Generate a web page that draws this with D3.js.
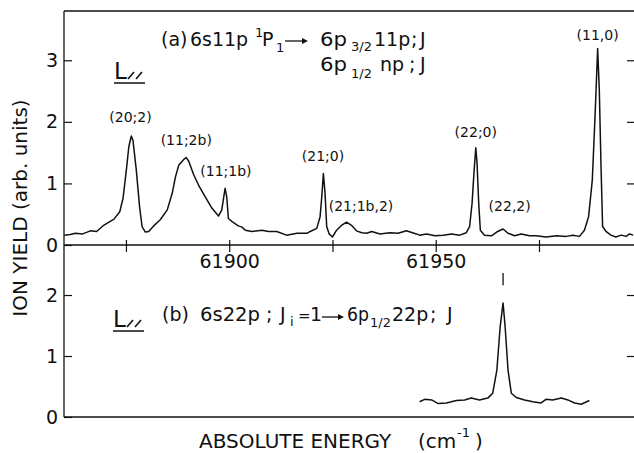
<!DOCTYPE html>
<html>
<head>
<meta charset="utf-8">
<script src="https://cdn.jsdelivr.net/npm/d3@7"></script>
<style>
  body { margin: 0; background: #fff; }
  text { font-family: "DejaVu Sans", sans-serif; fill: #111; }
</style>
</head>
<body>
<svg id="chart" width="634" height="453"></svg>
<script>
// spectrum (a): [energy cm^-1, ion yield]
var spectrumA = [
  [61860.1, 0.16], [61861.5, 0.17], [61862.8, 0.19], [61864.5, 0.18], [61866.4, 0.23],
  [61867.9, 0.22], [61869.6, 0.32], [61872.1, 0.42], [61873.5, 0.54], [61874.3, 0.76],
  [61875.1, 1.22], [61875.7, 1.60], [61876.3, 1.77], [61876.7, 1.70], [61877.5, 1.22],
  [61878.3, 0.62], [61878.9, 0.30], [61879.7, 0.21], [61880.5, 0.22], [61881.7, 0.31],
  [61883.3, 0.41], [61885.0, 0.57], [61886.2, 0.84], [61887.0, 1.11], [61887.8, 1.30],
  [61889.0, 1.39], [61889.6, 1.42], [61890.2, 1.36], [61891.4, 1.14], [61892.6, 0.97],
  [61894.2, 0.78], [61895.8, 0.60], [61897.4, 0.47], [61898.2, 0.57], [61899.0, 0.92],
  [61899.4, 0.78], [61899.8, 0.43], [61900.7, 0.38], [61902.2, 0.31], [61903.1, 0.29],
  [61903.9, 0.24], [61905.5, 0.22], [61907.9, 0.24], [61909.5, 0.22], [61911.5, 0.22],
  [61913.9, 0.16], [61916.4, 0.19], [61918.8, 0.19], [61919.6, 0.22], [61921.2, 0.27],
  [61922.0, 0.46], [61922.4, 0.78], [61922.8, 1.16], [61923.2, 0.84], [61923.6, 0.30],
  [61924.2, 0.18], [61925.0, 0.13], [61926.0, 0.24], [61927.2, 0.32], [61928.4, 0.37],
  [61929.6, 0.32], [61930.8, 0.23], [61932.1, 0.20], [61933.3, 0.19], [61934.5, 0.22],
  [61936.5, 0.18], [61938.9, 0.20], [61940.9, 0.19], [61942.9, 0.23], [61945.3, 0.18],
  [61946.1, 0.16], [61947.8, 0.18], [61949.8, 0.15], [61951.8, 0.16], [61953.8, 0.18],
  [61955.8, 0.16], [61957.4, 0.20], [61958.2, 0.30], [61958.8, 0.68], [61959.3, 1.22],
  [61959.7, 1.58], [61960.0, 1.33], [61960.4, 0.68], [61960.8, 0.24], [61961.8, 0.16],
  [61963.5, 0.15], [61965.0, 0.22], [61966.3, 0.26], [61967.5, 0.19], [61969.1, 0.15],
  [61970.7, 0.18], [61972.7, 0.15], [61974.3, 0.15], [61976.7, 0.13], [61979.2, 0.15],
  [61981.6, 0.14], [61983.2, 0.16], [61984.8, 0.14], [61986.0, 0.24], [61987.0, 0.46],
  [61987.9, 1.05], [61988.6, 2.14], [61989.2, 3.19], [61989.6, 2.52], [61990.0, 1.32],
  [61990.4, 0.30], [61991.2, 0.22], [61992.4, 0.16], [61993.6, 0.13], [61994.9, 0.16],
  [61996.1, 0.14], [61996.9, 0.18], [61997.8, 0.16]
];

// spectrum (b)
var spectrumB = [
  [61946.1, 0.25], [61947.3, 0.29], [61949.0, 0.28], [61950.6, 0.22], [61952.6, 0.23],
  [61955.0, 0.27], [61957.0, 0.28], [61958.6, 0.31], [61960.6, 0.28], [61962.6, 0.31],
  [61963.8, 0.39], [61964.8, 0.77], [61965.6, 1.48], [61966.3, 1.87], [61966.8, 1.48],
  [61967.5, 0.77], [61968.3, 0.39], [61969.5, 0.32], [61971.5, 0.28], [61973.5, 0.25],
  [61975.5, 0.23], [61976.7, 0.29], [61978.3, 0.28], [61980.4, 0.31], [61982.0, 0.28],
  [61983.6, 0.23], [61985.2, 0.21], [61987.2, 0.27]
];

// peak labels of (a): [text, energy, yield level of label baseline]
var peakLabels = [
  ["(20;2)", 61876.1, 2.0],
  ["(11;2b)", 61889.6, 1.62],
  ["(11;1b)", 61899.2, 1.12],
  ["(21;0)", 61922.7, 1.36],
  ["(21;1b,2)", 61931.9, 0.55],
  ["(22;0)", 61959.7, 1.75],
  ["(22,2)", 61967.9, 0.55],
  ["(11,0)", 61989.2, 3.33]
];

// marker above peak of (b): [energy, from, to]
var markerB = [61966.3, 2.16, 2.36];

var xTicks = [61875, 61900, 61925, 61950, 61975];
var xTickLabels = [61900, 61950];
var yTicksA = [0, 1, 2, 3];
var yTicksB = [0, 1, 2];

var svg = d3.select("#chart");
var padL = 64, padR = 634, padT = 11, midY = 245, padB = 417;

var x = d3.scaleLinear().domain([61860, 61998]).range([padL, padR]);
var yA = d3.scaleLinear().domain([0, 3.8]).range([midY, padT]);
var yB = d3.scaleLinear().domain([0, 2.82]).range([padB, midY]);

svg.append("rect").attr("width", 634).attr("height", 453).attr("fill", "#fff");

// frame
var frame = svg.append("g").attr("stroke", "#111").attr("stroke-width", 1.3).attr("fill", "none");
frame.append("line").attr("x1", padL).attr("x2", padR).attr("y1", padT).attr("y2", padT);
frame.append("line").attr("x1", padL).attr("x2", padL).attr("y1", padT).attr("y2", padB);
frame.append("line").attr("x1", padL).attr("x2", padR).attr("y1", midY).attr("y2", midY);
frame.append("line").attr("x1", padL).attr("x2", padR).attr("y1", padB).attr("y2", padB);

function styleAxis(g) {
  g.select(".domain").remove();
  g.selectAll(".tick line").attr("stroke", "#111").attr("stroke-width", 1.2);
  g.selectAll(".tick text").style("font-family", "DejaVu Sans").style("font-size", "19px").attr("fill", "#111");
}

// left axes
svg.append("g").attr("transform", "translate(" + padL + ",0)")
  .call(d3.axisLeft(yA).tickValues(yTicksA).tickSize(-8).tickSizeOuter(0).tickPadding(6).tickFormat(d3.format("d")))
  .call(styleAxis);
svg.append("g").attr("transform", "translate(" + padL + ",0)")
  .call(d3.axisLeft(yB).tickValues(yTicksB).tickSize(-8).tickSizeOuter(0).tickPadding(6).tickFormat(d3.format("d")))
  .call(styleAxis);

// right ticks
svg.append("g").attr("transform", "translate(" + padR + ",0)")
  .call(d3.axisRight(yA).tickValues([1, 2, 3]).tickSize(-7).tickSizeOuter(0).tickFormat(""))
  .call(styleAxis);
svg.append("g").attr("transform", "translate(" + padR + ",0)")
  .call(d3.axisRight(yB).tickValues([1, 2]).tickSize(-7).tickSizeOuter(0).tickFormat(""))
  .call(styleAxis);

// energy axis between the panels
var xAxis = svg.append("g").attr("transform", "translate(0," + midY + ")")
  .call(d3.axisBottom(x).tickValues(xTicks).tickSize(7).tickSizeOuter(0).tickPadding(3)
    .tickFormat(function (d) { return xTickLabels.indexOf(d) >= 0 ? d : ""; }))
  .call(styleAxis);
xAxis.selectAll(".tick line").attr("y1", -5);

// curves
var lineA = d3.line().x(function (d) { return x(d[0]); }).y(function (d) { return yA(d[1]); });
var lineB = d3.line().x(function (d) { return x(d[0]); }).y(function (d) { return yB(d[1]); });

svg.append("path").datum(spectrumA).attr("d", lineA)
  .attr("fill", "none").attr("stroke", "#111").attr("stroke-width", 1.5).attr("stroke-linejoin", "round");
svg.append("path").datum(spectrumB).attr("d", lineB)
  .attr("fill", "none").attr("stroke", "#111").attr("stroke-width", 1.5).attr("stroke-linejoin", "round");

svg.append("line")
  .attr("x1", x(markerB[0])).attr("x2", x(markerB[0]))
  .attr("y1", yB(markerB[1])).attr("y2", yB(markerB[2]))
  .attr("stroke", "#111").attr("stroke-width", 1.3);

// peak labels
svg.selectAll(".peak").data(peakLabels).enter().append("text")
  .attr("class", "peak")
  .attr("x", function (d) { return x(d[1]); })
  .attr("y", function (d) { return yA(d[2]); })
  .attr("text-anchor", "middle")
  .style("font-size", "14px")
  .text(function (d) { return d[0]; });

// axis titles
svg.append("text")
  .attr("transform", "translate(27,208) rotate(-90)")
  .attr("text-anchor", "middle")
  .style("font-size", "20px")
  .text("ION YIELD (arb. units)");

var xt = svg.append("g").style("font-size", "20px");
xt.append("text").attr("x", 199).attr("y", 448).text("ABSOLUTE ENERGY");
xt.append("text").attr("x", 418).attr("y", 448).text("(cm");
xt.append("text").attr("x", 457).attr("y", 437).style("font-size", "13px").text("-1");
xt.append("text").attr("x", 475).attr("y", 448).text(")");

// annotation texts: [text, x, y, size, fitted width]
function put(list) {
  list.forEach(function (t) {
    var el = svg.append("text").attr("x", t[1]).attr("y", t[2])
      .style("font-size", t[3] + "px")
      .text(t[0]);
    if (t[4]) el.attr("textLength", t[4]).attr("lengthAdjust", "spacingAndGlyphs");
  });
}
put([
  ["(a)", 161, 46, 19], ["6s11p", 190, 46, 19, 58], ["1", 255, 37, 13], ["P", 262, 46, 19],
  ["1", 276, 52, 13], ["6p", 320, 46, 19, 27], ["3/2", 351, 51, 13], ["11p", 374, 46, 19],
  [";", 411, 46, 19], ["J", 420, 46, 19],
  ["6p", 320, 71, 19, 27], ["1/2", 351, 78, 13], ["np", 380, 71, 19], [";", 409, 71, 19], ["J", 420, 71, 19],
  ["(b)", 162, 321, 19], ["6s22p", 200, 321, 19, 60], [";", 266, 321, 19], ["J", 280, 321, 19],
  ["i", 290, 326, 13], ["=", 298, 321, 15], ["1", 310, 321, 19],
  ["6p", 347, 321, 19, 22], ["1/2", 370, 327, 13], ["22p", 392, 321, 19], [";", 430, 321, 19], ["J", 447, 321, 19]
]);

// arrows
function arrow(x1, x2, y) {
  svg.append("line").attr("x1", x1).attr("x2", x2 - 4).attr("y1", y).attr("y2", y)
    .attr("stroke", "#111").attr("stroke-width", 1.3);
  svg.append("path").attr("d", "M" + x2 + "," + y + "L" + (x2 - 6) + "," + (y - 3) + "L" + (x2 - 6) + "," + (y + 3) + "Z")
    .attr("fill", "#111");
}
arrow(285, 308, 41);
arrow(322, 344, 317);

// L// symbols
function lpar(lx, by) {
  svg.append("text").attr("x", lx).attr("y", by).style("font-size", "23px").text("L");
  svg.append("path")
    .attr("d", "M" + (lx + 14) + "," + by + "L" + (lx + 20) + "," + (by - 7) +
      "M" + (lx + 22) + "," + by + "L" + (lx + 28) + "," + (by - 7) +
      "M" + lx + "," + (by + 4) + "L" + (lx + 31) + "," + (by + 4))
    .attr("stroke", "#111").attr("stroke-width", 1.6).attr("fill", "none");
}
lpar(114, 79);
lpar(113, 327);
</script>
</body>
</html>
